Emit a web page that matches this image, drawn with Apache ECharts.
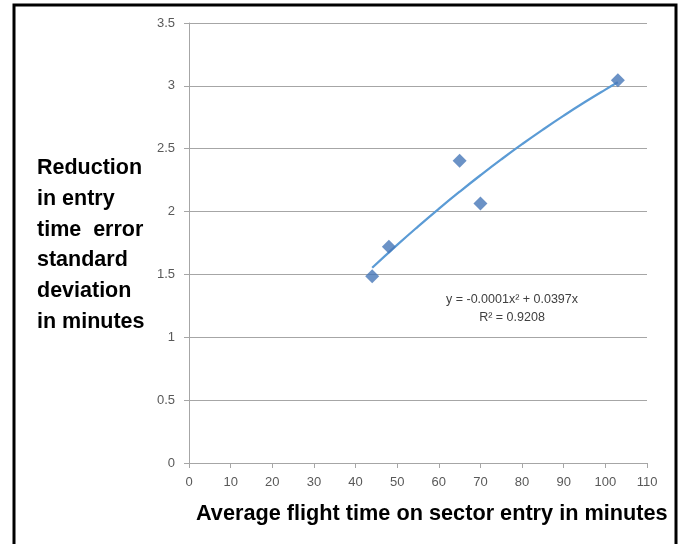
<!DOCTYPE html>
<html>
<head>
<meta charset="utf-8">
<script src="https://cdn.jsdelivr.net/npm/echarts@6/dist/echarts.min.js"></script>
<style>html,body{margin:0;padding:0;background:#fff;}#c{width:683px;height:544px;}</style>
</head>
<body>
<div id="c"></div>
<script>
// Observed data points (x = average flight time, y = reduction in SD)
var pointX = [44, 48, 65, 70, 103];
var pointY = [1.485, 1.72, 2.405, 2.065, 3.045];
// Trendline (values along the drawn curve)
var trendX = [44, 50, 55, 60, 65, 70, 75, 80, 85, 90, 95, 100, 103];
var trendY = [1.553, 1.735, 1.881, 2.022, 2.158, 2.289, 2.415, 2.536, 2.652, 2.763, 2.869, 2.970, 3.028];
var xTicks = [0, 10, 20, 30, 40, 50, 60, 70, 80, 90, 100, 110];
var yTicks = [0, 0.5, 1, 1.5, 2, 2.5, 3, 3.5];
var xTitle = 'Average flight time on sector entry in minutes';
var yTitle = 'Reduction\nin entry\ntime  error\nstandard\ndeviation\nin minutes';
var eqText = 'y = -0.0001x\u00B2 + 0.0397x\nR\u00B2 = 0.9208';

var chart = echarts.init(document.getElementById('c'), null, {renderer: 'canvas'});
var pts = pointX.map(function (x, i) { return [x, pointY[i]]; });
var trend = trendX.map(function (x, i) { return [x, trendY[i]]; });
var font = '"Liberation Sans", Arial, sans-serif';

chart.setOption({
  animation: false,
  backgroundColor: '#fff',
  grid: {left: 189, right: 36, top: 23, bottom: 81, containLabel: false},
  xAxis: {
    type: 'value', min: xTicks[0], max: xTicks[xTicks.length - 1], interval: 10,
    axisLine: {show: true, onZero: false, lineStyle: {color: '#a6a6a6', width: 1}},
    axisTick: {show: true, length: 5, lineStyle: {color: '#a6a6a6'}},
    axisLabel: {color: '#595959', fontSize: 13, fontFamily: font, margin: 13},
    splitLine: {show: false}
  },
  yAxis: {
    type: 'value', min: yTicks[0], max: yTicks[yTicks.length - 1], interval: 0.5,
    axisLine: {show: true, lineStyle: {color: '#a6a6a6', width: 1}},
    axisTick: {show: true, length: 5, lineStyle: {color: '#a6a6a6'}},
    axisLabel: {color: '#595959', fontSize: 13, fontFamily: font, margin: 14},
    splitLine: {show: true, lineStyle: {color: '#a6a6a6', width: 1}}
  },
  series: [
    {
      type: 'line', data: trend, smooth: true, showSymbol: false, symbol: 'none',
      lineStyle: {color: '#5B9BD5', width: 2.25}, z: 2
    },
    {
      type: 'scatter', data: pts, symbol: 'diamond', symbolSize: 14,
      itemStyle: {color: '#4677B8'}, z: 3
    }
  ],
  graphic: [
    {type: 'rect', shape: {x: 14, y: 5, width: 662, height: 560},
     style: {fill: 'none', stroke: '#000', lineWidth: 3}, silent: true},
    {type: 'text', left: 37, top: 153,
     style: {text: yTitle, font: 'bold 21.5px ' + font, fill: '#000', lineHeight: 30.7}},
    {type: 'text', left: 196, top: 503,
     style: {text: xTitle, font: 'bold 21.7px ' + font, fill: '#000'}},
    {type: 'text', x: 512, y: 291,
     style: {text: eqText, font: '12.5px ' + font, fill: '#404040', align: 'center', lineHeight: 18}}
  ]
});
</script>
</body>
</html>
